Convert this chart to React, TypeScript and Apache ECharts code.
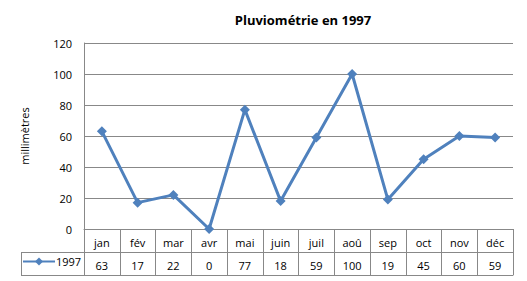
import React, { useEffect, useRef } from "react";
import * as echarts from "echarts";

const months = ["jan", "fév", "mar", "avr", "mai", "juin", "juil", "aoû", "sep", "oct", "nov", "déc"];
const values = [63, 17, 22, 0, 77, 18, 59, 100, 19, 45, 60, 59];
const seriesName = "1997";
const titleText = "Pluviométrie en 1997";
const yAxisName = "millimètres";

const FONT = "'Open Sans', 'Liberation Sans', sans-serif";
const GRID = "#888888";
const BLUE = "#4F81BD";

export default function App() {
  const ref = useRef<HTMLDivElement>(null);
  useEffect(() => {
    document.body.style.margin = "0";
    const chart = echarts.init(ref.current!, null, { renderer: "svg" });
    chart.setOption({
      animation: false,
      backgroundColor: "#ffffff",
      textStyle: { fontFamily: FONT },
      title: {
        text: titleText,
        left: 298,
        textAlign: "center",
        top: 8,
        textStyle: { fontSize: 13, fontWeight: "bold", color: "#000", fontFamily: FONT },
      },
      legend: {
        data: [seriesName],
        left: 22,
        top: 256,
        itemWidth: 32,
        itemHeight: 10,
        itemGap: 2,
        textStyle: { fontSize: 11, color: "#000", fontFamily: FONT, padding: [0, 0, 0, -4] },
        padding: 0,
      },
      grid: { left: 84, right: 14, top: 43, bottom: 52, containLabel: false },
      xAxis: [
        {
          type: "category",
          data: months,
          position: "bottom",
          boundaryGap: true,
          axisLine: { show: true, lineStyle: { color: GRID, width: 1 } },
          axisTick: { show: true, length: 46, lineStyle: { color: GRID, width: 1 } },
          axisLabel: { fontSize: 11, color: "#000", margin: 8, fontFamily: FONT },
        },
        {
          type: "category",
          data: values.map(String),
          position: "bottom",
          offset: 23,
          boundaryGap: true,
          axisLine: { show: true, lineStyle: { color: GRID, width: 1 } },
          axisTick: { show: false },
          axisLabel: { fontSize: 11, color: "#000", margin: 8, fontFamily: FONT },
        },
        {
          type: "category",
          data: values.map(String),
          position: "bottom",
          offset: 46,
          boundaryGap: true,
          axisLine: { show: true, lineStyle: { color: GRID, width: 1 } },
          axisTick: { show: false },
          axisLabel: { show: false },
        },
      ],
      yAxis: {
        type: "value",
        min: 0,
        max: 120,
        interval: 20,
        name: yAxisName,
        nameLocation: "middle",
        nameRotate: 90,
        nameGap: 54,
        nameTextStyle: { fontSize: 11, color: "#000", fontFamily: FONT },
        axisLine: { show: true, lineStyle: { color: GRID, width: 1 } },
        axisTick: { show: false },
        axisLabel: { fontSize: 11, color: "#000", margin: 12, fontFamily: FONT },
        splitLine: { show: true, lineStyle: { color: GRID, width: 1 } },
      },
      graphic: [
        { type: "line", shape: { x1: 21, y1: 252.5, x2: 84, y2: 252.5 }, style: { stroke: GRID, lineWidth: 1 } },
        { type: "line", shape: { x1: 21, y1: 275.5, x2: 84, y2: 275.5 }, style: { stroke: GRID, lineWidth: 1 } },
        { type: "line", shape: { x1: 21.5, y1: 252, x2: 21.5, y2: 276 }, style: { stroke: GRID, lineWidth: 1 } },
      ],
      series: [
        {
          name: seriesName,
          type: "line",
          data: values,
          xAxisIndex: 0,
          symbol: "diamond",
          symbolSize: 10,
          itemStyle: { color: BLUE },
          lineStyle: { color: BLUE, width: 3 },
        },
      ],
    });
    return () => chart.dispose();
  }, []);
  return <div ref={ref} style={{ width: 527, height: 281 }} />;
}
